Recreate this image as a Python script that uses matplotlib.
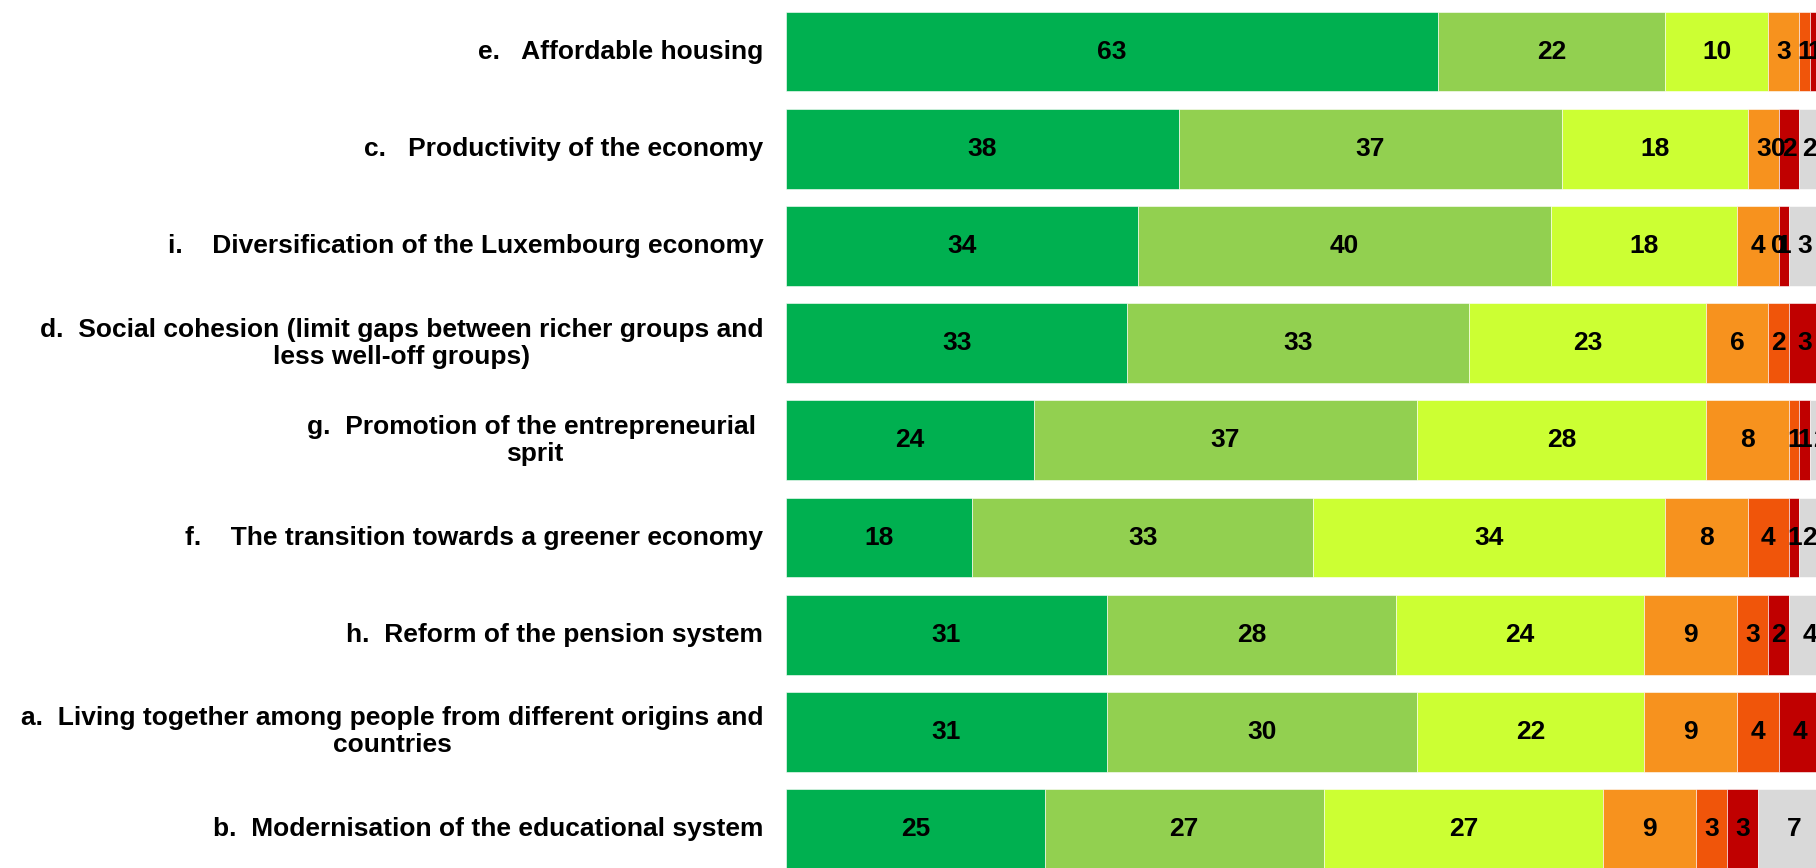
import matplotlib.pyplot as plt
import numpy as np

# rows from top to bottom
labels = [
    "e.   Affordable housing",
    "c.   Productivity of the economy",
    "i.    Diversification of the Luxembourg economy",
    "d.  Social cohesion (limit gaps between richer groups and\nless well-off groups)",
    "g.  Promotion of the entrepreneurial \nsprit",
    "f.    The transition towards a greener economy",
    "h.  Reform of the pension system",
    "a.  Living together among people from different origins and\ncountries",
    "b.  Modernisation of the educational system",
]

# one list per answer category (same row order as labels)
very_high = [63, 38, 34, 33, 24, 18, 31, 31, 25]
high = [22, 37, 40, 33, 37, 33, 28, 30, 27]
medium = [10, 18, 18, 23, 28, 34, 24, 22, 27]
low = [3, 3, 4, 6, 8, 8, 9, 9, 9]
very_low = [1, 0, 0, 2, 1, 4, 3, 4, 3]
none = [1, 2, 1, 3, 1, 1, 2, 4, 3]
dont_know = [0, 2, 3, 1, 2, 2, 4, 1, 7]

series = [very_high, high, medium, low, very_low, none, dont_know]
colors = ['#00B050', '#92D050', '#CCFF33', '#F7921E', '#F0550A', '#C00000', '#D9D9D9']

plt.rcParams['font.family'] = ['Liberation Sans', 'DejaVu Sans']

fig = plt.figure(figsize=(18.16, 8.68), dpi=100)
ax = fig.add_axes([786 / 1816, 0, 1 - 786 / 1816, 1])

n = len(labels)
y = np.arange(n)[::-1]
left = np.zeros(n)
for vals, col in zip(series, colors):
    vals = np.array(vals, dtype=float)
    ax.barh(y, vals, left=left, height=0.82, color=col, edgecolor='white', linewidth=0.4)
    for yi, l, v in zip(y, left, vals):
        # skip empty grey segments at the far end
        if v == 0 and col == '#D9D9D9':
            continue
        ax.text(l + v / 2, yi, "%d" % v, ha='center', va='center',
                fontsize=19, fontweight='bold', color='black', clip_on=True)
    left += vals

for yi, lab in zip(y, labels):
    ax.text(-0.022, yi, lab, transform=ax.get_yaxis_transform(), ha='right', va='center',
            multialignment='center', fontsize=19, fontweight='bold', linespacing=1.15)

ax.set_xlim(0, 99.6)
ax.set_ylim(-0.4, n - 1 + 0.53)
ax.axis('off')

plt.savefig('out.png', dpi=100)
